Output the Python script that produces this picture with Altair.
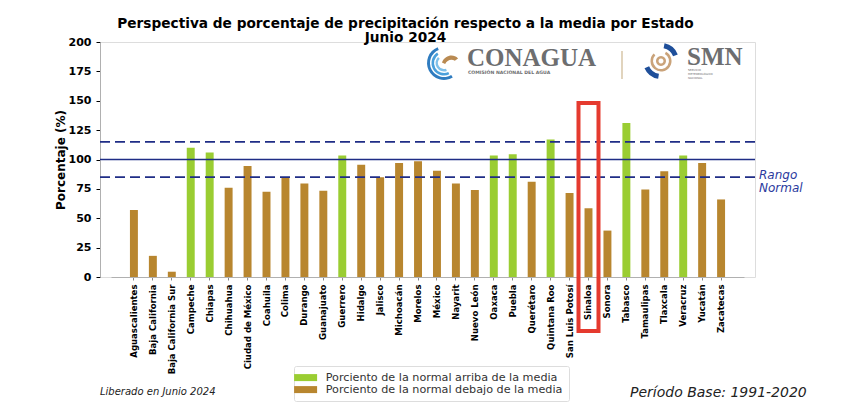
import altair as alt
import pandas as pd

# Porcentaje de precipitación respecto a la media, junio 2024
estados = [
    "Aguascalientes", "Baja California", "Baja California Sur", "Campeche",
    "Chiapas", "Chihuahua", "Ciudad de México", "Coahuila", "Colima",
    "Durango", "Guanajuato", "Guerrero", "Hidalgo", "Jalisco", "Michoacán",
    "Morelos", "México", "Nayarit", "Nuevo León", "Oaxaca", "Puebla",
    "Querétaro", "Quintana Roo", "San Luis Potosí", "Sinaloa", "Sonora",
    "Tabasco", "Tamaulipas", "Tlaxcala", "Veracruz", "Yucatán", "Zacatecas",
]
porcentaje = [
    57, 18, 4.5, 110, 106, 76, 94.5, 72.5, 85, 79.5, 73.5, 103.5, 95.5, 85,
    97, 98.5, 90.5, 79.5, 74, 103.5, 104.5, 81, 117, 71.5, 58.5, 39.5, 131,
    74.5, 90, 103.5, 97, 66,
]
media = 100
rango_normal = [85, 115]
estado_resaltado = "Sinaloa"
caja_resaltado = [148, -46]

ARRIBA = "Porciento de la normal arriba de la media"
DEBAJO = "Porciento de la normal debajo de la media"
VERDE = "#9ACD32"
CAFE = "#B8862F"
AZUL = "#1f2d86"

df = pd.DataFrame({"estado": estados, "pct": porcentaje})
df["clase"] = [ARRIBA if v >= media else DEBAJO for v in porcentaje]

W, H = 655, 235

x_scale = alt.Scale(domain=estados, range=[11, 644], paddingInner=0.58,
                    paddingOuter=1)
x_enc = alt.X(
    "estado:N",
    sort=None,
    scale=x_scale,
    axis=alt.Axis(
        title=None, labelAngle=-90, labelFont="DejaVu Sans Condensed",
        labelFontWeight="bold", labelFontSize=9.5, labelColor="black",
        labelPadding=4, tickSize=3, tickColor="#888", domainColor="#b0b0b0",
    ),
)
y_scale = alt.Scale(domain=[0, 200], nice=False)
y_axis = alt.Axis(
    title="Porcentaje (%)", values=list(range(0, 201, 25)), grid=False,
    labelOverlap=False,
    labelFont="DejaVu Sans", labelFontWeight="bold", labelFontSize=11,
    labelColor="black", labelPadding=5, tickSize=4, tickColor="black",
    domainColor="#b0b0b0", titleFont="DejaVu Sans", titleFontSize=12,
    titleFontWeight="bold", titleColor="black", titlePadding=1,
)


def y_enc(campo):
    return alt.Y(campo, scale=y_scale, axis=y_axis)


# Muestras rectangulares anchas en la leyenda
muestra = "M-2.3,-0.7L2.3,-0.7L2.3,0.7L-2.3,0.7Z"

barras = alt.Chart(df).mark_bar().encode(
    x=x_enc,
    y=y_enc("pct:Q"),
    color=alt.Color(
        "clase:N",
        scale=alt.Scale(domain=[ARRIBA, DEBAJO], range=[VERDE, CAFE]),
        legend=alt.Legend(
            title=None, orient="none", legendX=194, legendY=324,
            symbolType=muestra, symbolSize=100,
            symbolStrokeWidth=0, labelFont="DejaVu Sans", labelFontSize=11.2,
            labelColor="#333", labelLimit=400, labelOffset=14.5,
            rowPadding=0, fillColor="white", strokeColor="#dddddd",
            padding=6, cornerRadius=2,
        ),
    ),
)

lineas = pd.DataFrame({"y": [media] + rango_normal,
                       "tipo": ["media", "rango", "rango"]})
linea_media = alt.Chart(lineas[lineas.tipo == "media"]).mark_rule(
    color=AZUL, strokeWidth=1.6
).encode(y=y_enc("y:Q"))
lineas_rango = alt.Chart(lineas[lineas.tipo == "rango"]).mark_rule(
    color=AZUL, strokeWidth=1.6, strokeDash=[10, 5]
).encode(y=y_enc("y:Q"))

rango1 = alt.Chart(pd.DataFrame({"y": [rango_normal[0]]})).mark_text(
    text="Rango", align="left", baseline="middle", font="DejaVu Sans",
    fontStyle="italic", fontSize=12, color="#2b3a9e", dy=-2,
).encode(x=alt.value(W + 4), y=y_enc("y:Q"))
rango2 = alt.Chart(pd.DataFrame({"y": [rango_normal[0]]})).mark_text(
    text="Normal", align="left", baseline="middle", font="DejaVu Sans",
    fontStyle="italic", fontSize=12, color="#2b3a9e", dy=11,
).encode(x=alt.value(W + 4), y=y_enc("y:Q"))

# Recuadro rojo que resalta al estado
resaltado = alt.Chart(pd.DataFrame({
    "estado": [estado_resaltado], "y": [caja_resaltado[0]],
    "y2": [caja_resaltado[1]],
})).mark_bar(
    size=20, fill="white", fillOpacity=0, stroke="#e53a2f", strokeWidth=4,
).encode(x=x_enc, y=y_enc("y:Q"), y2="y2:Q")

# Pies de página
pie = pd.DataFrame({
    "t": ["Liberado en Junio 2024", "Período Base: 1991-2020"],
})
pie1 = alt.Chart(pie.iloc[[0]]).mark_text(
    align="left", baseline="middle", font="DejaVu Sans", fontStyle="italic",
    fontSize=10, color="#222",
).encode(text="t:N", x=alt.value(0), y=alt.value(350))
pie2 = alt.Chart(pie.iloc[[1]]).mark_text(
    align="left", baseline="middle", font="DejaVu Sans", fontStyle="italic",
    fontSize=14, color="#222",
).encode(text="t:N", x=alt.value(530), y=alt.value(351))

# Logotipos institucionales (texto y trazos sencillos)
gris = "#6d6e70"
logo_txt = []
for txt, xx, yy, fs, fw, fnt in [
    ("CONAGUA", 367, 16, 25, "bold", "Liberation Serif"),
    ("COMISIÓN NACIONAL DEL AGUA", 368, 31, 4.6, "bold", "DejaVu Sans"),
    ("SMN", 587, 14.5, 25, "bold", "Liberation Serif"),
    ("SERVICIO", 588, 28, 2.8, "normal", "DejaVu Sans"),
    ("METEOROLÓGICO", 588, 32, 2.8, "normal", "DejaVu Sans"),
    ("NACIONAL", 588, 36, 2.8, "normal", "DejaVu Sans"),
]:
    logo_txt.append(
        alt.Chart(pd.DataFrame({"t": [txt]})).mark_text(
            align="left", baseline="middle", font=fnt, fontSize=fs,
            fontWeight=fw, color=gris,
        ).encode(text="t:N", x=alt.value(xx), y=alt.value(yy))
    )

divisor = alt.Chart(pd.DataFrame({"a": [0]})).mark_rule(
    color="#cdb892", strokeWidth=1.2
).encode(x=alt.value(522), y=alt.value(9), y2=alt.value(37))

arcos = []
for r_in, r_out, col, t1, t2, cx, cy in [
    (14, 17, "#2f7cc0", 2.6, 5.9, 344, 21),
    (10, 12.5, "#4aa0dc", 2.7, 5.7, 344, 21),
    (6, 8.5, "#7fc0ea", 2.8, 5.5, 344, 21),
    (2.5, 5, "#caa37a", 0, 6.28, 561, 19),
    (8, 10.5, "#caa37a", 0.5, 5.5, 561, 19),
    (13, 18, "#1f4f9a", 0.2, 1.2, 561, 19),
    (13, 18, "#1f4f9a", 3.3, 4.3, 561, 19),
]:
    arcos.append(
        alt.Chart(pd.DataFrame({"a": [0]})).mark_arc(
            innerRadius=r_in, outerRadius=r_out, theta=t1, theta2=t2,
            color=col,
        ).encode(x=alt.value(cx), y=alt.value(cy))
    )
ave = alt.Chart(pd.DataFrame({"a": [0]})).mark_point(
    shape="M-1,0.3C-0.6,-0.6 0.4,-0.8 1,-0.2L0.6,0.1C0.2,-0.2 -0.4,0 -0.6,0.5Z",
    size=260, filled=True, color="#b98a52", opacity=1,
).encode(x=alt.value(350), y=alt.value(18))

chart = alt.layer(
    barras, linea_media, lineas_rango, rango1, rango2, resaltado,
    pie1, pie2, divisor, *arcos, ave, *logo_txt,
).properties(
    width=W, height=H,
    title=alt.TitleParams(
        text=["Perspectiva de porcentaje de precipitación respecto a la media por Estado",
              "Junio 2024"],
        anchor="middle", frame="group", font="DejaVu Sans", fontSize=13.7,
        fontWeight="bold", color="black", lineHeight=14.5, offset=-9, dx=-22,
    ),
    autosize=alt.AutoSizeParams(type="none"),
    padding={"left": 100, "top": 42, "right": 99, "bottom": 136},
).configure_view(
    stroke="#b0b0b0", strokeWidth=1
).configure(background="white")

chart.save("out.html", embed_options={"renderer": "svg", "actions": False})
